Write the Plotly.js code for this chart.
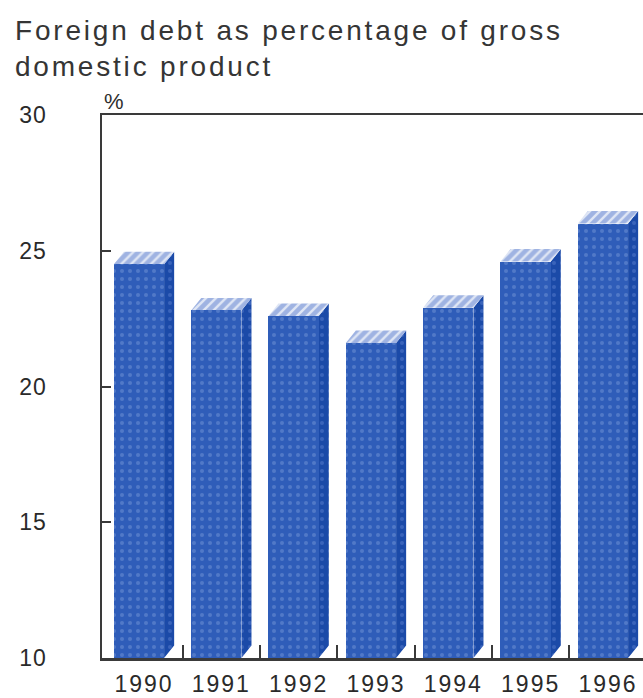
<!DOCTYPE html>
<html>
<head>
<meta charset="utf-8">
<script src="https://cdn.plot.ly/plotly-3.0.1.min.js"></script>
<style>
  html, body { margin: 0; padding: 0; background: #ffffff; overflow: hidden; }
  #chart { width: 643px; height: 698px; }
  /* the labels of this chart are set slightly letter-spaced */
  #chart g.annotation[data-index="0"] text { letter-spacing: 2.8px; }
  #chart .xtick text, #chart .x2tick text { letter-spacing: 2px; }
  #chart .ytick text { letter-spacing: 1px; }
</style>
</head>
<body>
<div id="chart"></div>
<script>
// Foreign debt as a share of GDP, per year (%)
const years = ['1990', '1991', '1992', '1993', '1994', '1995', '1996'];
const debtPct = [24.5, 22.8, 22.6, 21.6, 22.9, 24.6, 26.0];
const yTicks = [10, 15, 20, 25, 30];

// pseudo-3D block geometry (category units / value units)
const FRONT_LEFT = -0.39;
const FRONT_WIDTH = 0.65;
const DEPTH_X = 0.13;
const DEPTH_Y = 0.46;
const BASE = 10;

const pos = years.map((_, i) => i);

// side and top faces built from the same values as the front faces
const sideX = [], sideY = [], topX = [], topY = [];
debtPct.forEach((v, i) => {
  const xl = i + FRONT_LEFT;
  const xr = xl + FRONT_WIDTH;
  sideX.push(xr, xr + DEPTH_X, xr + DEPTH_X, xr, xr, null);
  sideY.push(BASE, BASE + DEPTH_Y, v + DEPTH_Y, v, BASE, null);
  topX.push(xl, xl + DEPTH_X, xr + DEPTH_X, xr, xl, null);
  topY.push(v, v + DEPTH_Y, v + DEPTH_Y, v, v, null);
});

const xRange = [-0.543, 6.453];
const axisColor = '#3a3a3a';
const M = { l: 102, r: 0, t: 115, b: 40 };
const plotW = 643 - M.l - M.r;
const plotH = 698 - M.t - M.b;

const traces = [
  {
    type: 'scatter', mode: 'lines', x: sideX, y: sideY,
    fill: 'toself', fillcolor: '#1b4aa8',
    fillpattern: { shape: '.', bgcolor: '#1b4aa8', fgcolor: '#3a64bb', size: 8, solidity: 0.2 },
    line: { width: 0, color: 'rgba(0,0,0,0)' },
    hoverinfo: 'skip', showlegend: false, xaxis: 'x', yaxis: 'y'
  },
  {
    type: 'scatter', mode: 'lines', x: topX, y: topY,
    fill: 'toself', fillcolor: '#a9bce6',
    fillpattern: { shape: '/', bgcolor: '#9fb3e2', fgcolor: '#dfe6f5', size: 7, solidity: 0.35 },
    line: { width: 0, color: 'rgba(0,0,0,0)' },
    hoverinfo: 'skip', showlegend: false, xaxis: 'x', yaxis: 'y'
  },
  {
    type: 'bar', x: pos, y: debtPct,
    width: FRONT_WIDTH, offset: FRONT_LEFT,
    marker: {
      color: '#2e5cb8',
      line: { width: 0 },
      pattern: { shape: '.', bgcolor: '#2f5db9', fgcolor: '#5179c8', size: 8, solidity: 0.2 }
    },
    hoverinfo: 'x+y', showlegend: false, xaxis: 'x2', yaxis: 'y'
  }
];

const layout = {
  width: 643, height: 698,
  margin: { l: M.l, r: M.r, t: M.t, b: M.b, pad: 0 },
  paper_bgcolor: '#ffffff', plot_bgcolor: '#ffffff',
  font: { family: '"Liberation Sans", Arial, sans-serif', color: '#2e2e2e' },
  xaxis: {
    type: 'linear', range: xRange, fixedrange: true,
    tickvals: pos.slice(0, -1).map(p => p + 0.5).concat([6.5]),
    showticklabels: false,
    ticks: 'inside', ticklen: 13, tickwidth: 2, tickcolor: axisColor,
    showline: true, linecolor: axisColor, linewidth: 2.5, mirror: true,
    showgrid: false, zeroline: false
  },
  xaxis2: {
    type: 'linear', range: xRange, fixedrange: true,
    overlaying: 'x', anchor: 'y', side: 'bottom',
    tickvals: pos, ticktext: years,
    ticks: '', ticklabelstandoff: 10,
    tickfont: { size: 23, color: '#2a2a2a' },
    showline: false, showgrid: false, zeroline: false
  },
  yaxis: {
    range: [10, 30], fixedrange: true,
    tickvals: yTicks, ticktext: yTicks.map(String),
    ticks: 'inside', ticklen: 9, tickwidth: 2, tickcolor: axisColor,
    ticklabelstandoff: 48,
    tickfont: { size: 23, color: '#2a2a2a' },
    showline: true, linecolor: axisColor, linewidth: 2.5,
    showgrid: false, zeroline: false
  },
  annotations: [
    {
      text: 'Foreign debt as percentage of gross<br>domestic product',
      xref: 'paper', yref: 'paper',
      x: (13 - M.l) / plotW, y: 1 + (M.t - 13) / plotH,
      xanchor: 'left', yanchor: 'top', align: 'left',
      showarrow: false, font: { size: 28, color: '#353535' }
    },
    {
      text: '%', xref: 'paper', yref: 'paper', x: 0, y: 1,
      xanchor: 'left', yanchor: 'bottom', xshift: 0, yshift: -1,
      showarrow: false, font: { size: 22, color: '#2e2e2e' }
    }
  ],
  bargap: 0
};

Plotly.newPlot('chart', traces, layout, { staticPlot: true, displayModeBar: false });
</script>
</body>
</html>
